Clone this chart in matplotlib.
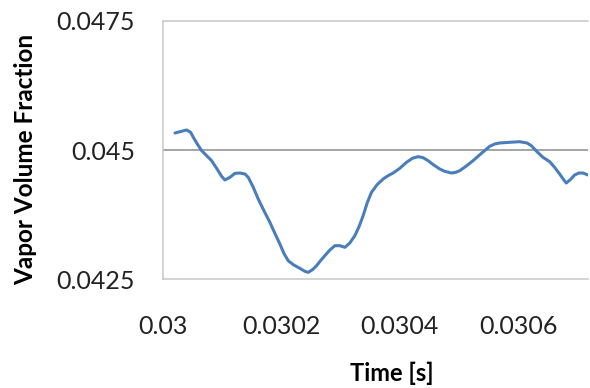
import numpy as np
import matplotlib.pyplot as plt

# Data
time = [0.0300203, 0.0300287, 0.0300400, 0.0300467, 0.0300512, 0.0300579,
        0.0300653, 0.0300737, 0.0300821, 0.0300906, 0.0300990, 0.0301046,
        0.0301131, 0.0301215, 0.0301300, 0.0301384, 0.0301440, 0.0301525,
        0.0301609, 0.0301705, 0.0301806, 0.0301890, 0.0301975, 0.0302042,
        0.0302115, 0.0302200, 0.0302312, 0.0302397, 0.0302453, 0.0302526,
        0.0302594, 0.0302661, 0.0302734, 0.0302819, 0.0302903, 0.0302987,
        0.0303072, 0.0303156, 0.0303241, 0.0303314, 0.0303381, 0.0303449,
        0.0303522, 0.0303617, 0.0303719, 0.0303803, 0.0303888, 0.0304000,
        0.0304113, 0.0304214, 0.0304309, 0.0304394, 0.0304478, 0.0304574,
        0.0304675, 0.0304759, 0.0304872, 0.0304945, 0.0305013, 0.0305125,
        0.0305238, 0.0305379, 0.0305519, 0.0305604, 0.0305688, 0.0305857,
        0.0306025, 0.0306149, 0.0306222, 0.0306318, 0.0306419, 0.0306532,
        0.0306616, 0.0306701, 0.0306768, 0.0306813, 0.0306881, 0.0306954,
        0.0307028, 0.0307095, 0.0307179]
vapor = [0.045329, 0.045355, 0.045388, 0.045342, 0.045246, 0.045116,
         0.044987, 0.044890, 0.044793, 0.044645, 0.044490, 0.044419,
         0.044470, 0.044548, 0.044554, 0.044535, 0.044470, 0.044277,
         0.044050, 0.043824, 0.043598, 0.043385, 0.043178, 0.042997,
         0.042855, 0.042778, 0.042707, 0.042649, 0.042629, 0.042681,
         0.042758, 0.042855, 0.042952, 0.043062, 0.043146, 0.043146,
         0.043114, 0.043198, 0.043340, 0.043521, 0.043727, 0.043973,
         0.044180, 0.044328, 0.044438, 0.044503, 0.044554, 0.044645,
         0.044761, 0.044839, 0.044871, 0.044851, 0.044793, 0.044709,
         0.044632, 0.044587, 0.044554, 0.044567, 0.044599, 0.044690,
         0.044793, 0.044935, 0.045071, 0.045116, 0.045136, 0.045149,
         0.045161, 0.045136, 0.045084, 0.044968, 0.044858, 0.044774,
         0.044664, 0.044535, 0.044425, 0.044360, 0.044425, 0.044516,
         0.044554, 0.044554, 0.044516]

xticks = [0.03, 0.0302, 0.0304, 0.0306]
xtick_labels = ['0.03', '0.0302', '0.0304', '0.0306']
yticks = [0.0425, 0.045, 0.0475]
ytick_labels = ['0.0425', '0.045', '0.0475']

plt.rcParams['font.family'] = ['Lato', 'DejaVu Sans']

fig = plt.figure(figsize=(5.9, 3.88), dpi=100)
ax = fig.add_axes([0.2763, 0.2809, 0.7203, 0.6650])

ax.plot(time, vapor, color='#4a7ebb', lw=2.2,
        solid_capstyle='round', solid_joinstyle='round')

ax.set_xlim(0.03, 0.030718)
ax.set_ylim(0.0425, 0.0475)
ax.set_xticks(xticks)
ax.set_xticklabels(xtick_labels)
ax.set_yticks(yticks)
ax.set_yticklabels(ytick_labels)
ax.tick_params(length=0, labelsize=18, colors='#222222')
ax.tick_params(axis='x', pad=26)
ax.tick_params(axis='y', pad=20)

ax.axhline(0.045, color='#8c8c8c', lw=1.1, zorder=0)
for side in ['top', 'left', 'bottom']:
    ax.spines[side].set_color('#c8c8c8')
    ax.spines[side].set_linewidth(1.1)
ax.spines['right'].set_visible(False)

ax.set_xlabel('Time [s]', fontsize=17, fontweight='bold')
ax.set_ylabel('Vapor Volume Fraction', fontsize=17.5, fontweight='bold')
ax.xaxis.set_label_coords(0.538, -0.32)
ax.yaxis.set_label_coords(-0.296, 0.465)

fig.savefig('out.png', dpi=100)
